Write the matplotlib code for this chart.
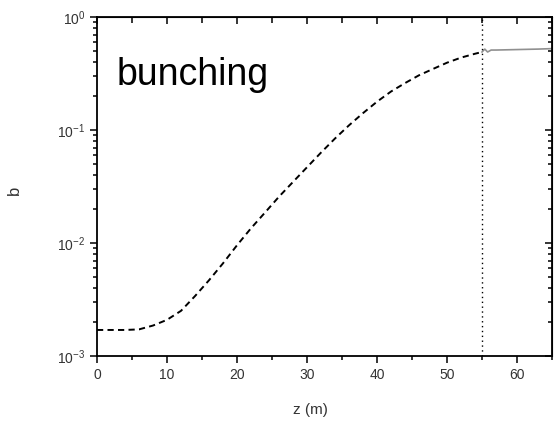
import numpy as np
import matplotlib
matplotlib.use("Agg")
import matplotlib.pyplot as plt
from matplotlib.ticker import LogLocator, MultipleLocator

plt.rcParams['font.family'] = ['Liberation Sans', 'DejaVu Sans']
plt.rcParams['mathtext.default'] = 'regular'

# bunching factor along the undulator (dashed part)
z_lin = [0, 2, 4, 6, 8, 10, 12, 14, 16, 18, 20, 22, 24, 26, 28, 30, 32, 34,
         36, 38, 40, 42, 44, 46, 48, 50, 52, 54, 55]
b_lin = [1.70e-3, 1.70e-3, 1.70e-3, 1.72e-3, 1.86e-3, 2.09e-3, 2.51e-3,
         3.39e-3, 4.68e-3, 6.61e-3, 9.55e-3, 1.35e-2, 1.86e-2, 2.57e-2,
         3.47e-2, 4.68e-2, 6.31e-2, 8.41e-2, 0.110, 0.141, 0.178, 0.219,
         0.260, 0.305, 0.347, 0.394, 0.437, 0.473, 0.490]

# after the break (solid grey part)
z_sat = [55, 55.4, 55.8, 56.3, 57, 60, 63, 65]
b_sat = [0.49, 0.52, 0.49, 0.51, 0.51, 0.515, 0.52, 0.525]

z_break = 55

fig = plt.figure(figsize=(5.54, 4.23), dpi=100)
ax = fig.add_axes([97/554, 1 - 356/423, 455/554, 339/423])

ax.plot(z_lin, b_lin, color='black', lw=1.4, dashes=(3.2, 2.2))
ax.plot(z_sat, b_sat, color='#909090', lw=1.2)
ax.axvline(z_break, color='black', lw=1.0, ls=(0, (1, 2.5)))

ax.set_yscale('log')
ax.set_xlim(0, 65)
ax.set_ylim(1e-3, 1)

ax.xaxis.set_major_locator(MultipleLocator(10))
ax.xaxis.set_minor_locator(MultipleLocator(5))
ax.yaxis.set_major_locator(LogLocator(base=10))
ax.yaxis.set_minor_locator(LogLocator(base=10, subs=np.arange(2, 10)))

for side in ax.spines.values():
    side.set_linewidth(1.3)

ax.tick_params(which='both', direction='out', top=False, right=False,
               colors='black', labelcolor='#333333', labelsize=10, width=1.1)
ax.tick_params(which='major', length=5)
ax.tick_params(which='minor', length=3)

# mirrored inward ticks on top and right
axt = ax.secondary_xaxis('top')
axt.xaxis.set_major_locator(MultipleLocator(10))
axt.xaxis.set_minor_locator(MultipleLocator(5))
axt.tick_params(which='both', direction='in', labeltop=False, width=1.1)
axt.tick_params(which='major', length=5)
axt.tick_params(which='minor', length=4)
axr = ax.secondary_yaxis('right')
axr.yaxis.set_major_locator(LogLocator(base=10))
axr.yaxis.set_minor_locator(LogLocator(base=10, subs=np.arange(2, 10)))
axr.tick_params(which='both', direction='in', labelright=False, width=1.1)
axr.tick_params(which='major', length=5)
axr.tick_params(which='minor', length=3)

ax.set_xlabel('z (m)', fontsize=11, color='#333333')
ax.xaxis.set_label_coords(0.468, -0.14)
ax.set_ylabel('b', fontsize=12, color='#333333')
ax.yaxis.set_label_coords(-0.165, 0.49)

ax.text(0.044, 0.80, 'bunching', transform=ax.transAxes, fontsize=27,
        color='black', ha='left', va='baseline')

fig.savefig('out.png', dpi=100)
